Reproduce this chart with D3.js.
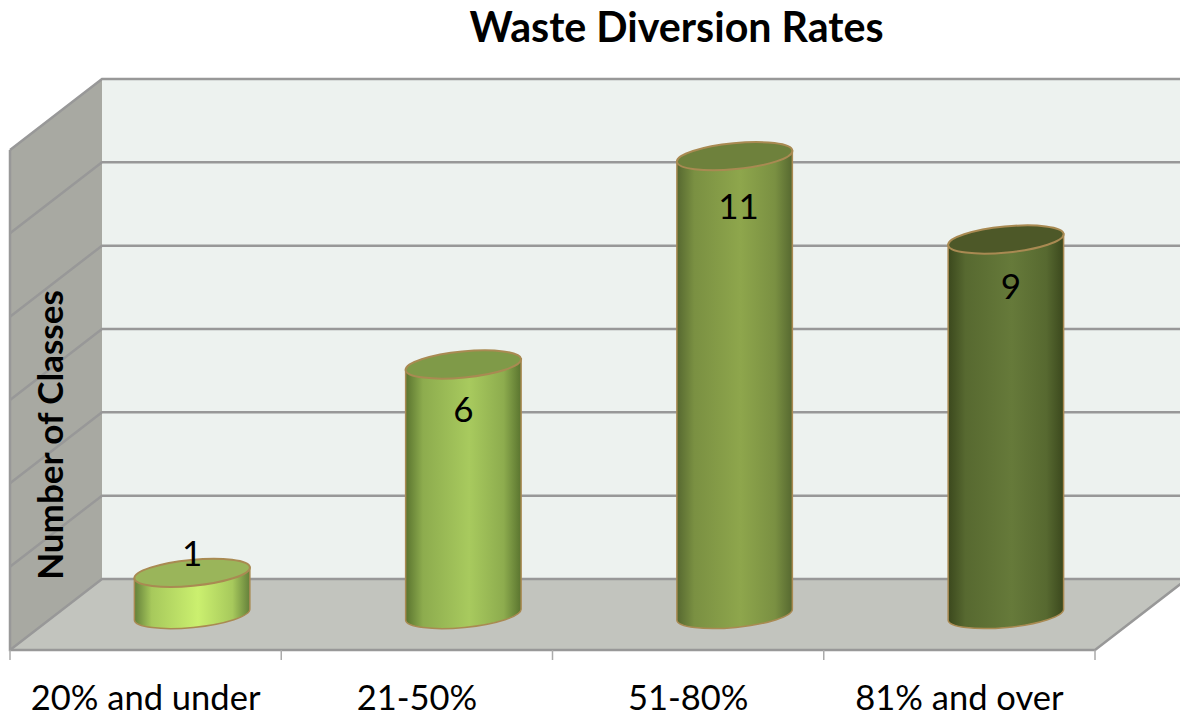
<!DOCTYPE html>
<html>
<head>
<meta charset="utf-8">
<script src="https://cdn.jsdelivr.net/npm/d3@7"></script>
<style>
  body { margin: 0; background: #fff; }
  svg { display: block; }
  text { font-family: Lato, Carlito, sans-serif; fill: #000; }
</style>
</head>
<body>
<figure style="margin:0"></figure>
<script>
const categories = ['20% and under', '21-50%', '51-80%', '81% and over']
const values = [1, 6, 11, 9]
const gridTicks = [0, 2, 4, 6, 8, 10, 12]
const edgeColors = ['#64803a', '#5a742f', '#566830', '#3b481d']
const midColors = ['#cbf06f', '#a8ca5e', '#8ea64c', '#667a3a']
const topColors = ['#9ab55a', '#7f9a48', '#6e813c', '#4d5828']

const width = 1180
const height = 713
const depthX = 92
const depthY = -71
const floorY = 650
const rx = 58
const ry = 13
const tilt = -5.5

const svg = d3.select('figure').append('svg')
  .attr('width', width)
  .attr('height', height)

const x = d3.scaleBand().domain(categories).range([10, 1095])
// front plane heights, the back wall is the same shifted by depth
const y = d3.scaleLinear().domain([0, 12]).range([floorY, 150])

const defs = svg.append('defs')
categories.forEach((c, i) => {
  const g = defs.append('linearGradient').attr('id', 'bar' + i)
  const shade = d3.interpolateRgb(edgeColors[i], midColors[i])
  g.append('stop').attr('offset', '0%').attr('stop-color', edgeColors[i])
  g.append('stop').attr('offset', '15%').attr('stop-color', shade(0.65))
  g.append('stop').attr('offset', '55%').attr('stop-color', midColors[i])
  g.append('stop').attr('offset', '85%').attr('stop-color', shade(0.65))
  g.append('stop').attr('offset', '100%').attr('stop-color', edgeColors[i])
})

const poly = pts => 'M' + pts.map(p => p.join(',')).join('L') + 'Z'
const left = x.range()[0]
const right = x.range()[1]

// back wall, floor, side wall
svg.append('path')
  .attr('d', poly([[left + depthX, y(12) + depthY], [width + 20, y(12) + depthY], [width + 20, y(0) + depthY], [left + depthX, y(0) + depthY]]))
  .attr('fill', '#edf2ef')
svg.append('path')
  .attr('d', poly([[left, y(0)], [right, y(0)], [right + depthX, y(0) + depthY], [left + depthX, y(0) + depthY]]))
  .attr('fill', '#c2c4be')
svg.append('path')
  .attr('d', poly([[left, y(12)], [left + depthX, y(12) + depthY], [left + depthX, y(0) + depthY], [left, y(0)]]))
  .attr('fill', '#a8a9a2')

const grid = svg.append('g')
  .attr('fill', 'none')
  .attr('stroke', '#989898')
  .attr('stroke-width', 2.5)

grid.selectAll('path.back')
  .data(gridTicks)
  .join('path')
  .attr('class', 'back')
  .attr('d', d => d3.line()([[left, y(d)], [left + depthX, y(d) + depthY], [d === 0 ? right + depthX : width + 20, y(d) + depthY]]))

grid.append('path')
  .attr('d', d3.line()([[left, y(12)], [left, y(0)], [right, y(0)], [right + depthX, y(0) + depthY]]))

// axis with the category labels, ticks sit on the band edges
const axis = svg.append('g')
  .attr('transform', `translate(0,${floorY})`)
  .call(d3.axisBottom(x).tickSize(0).tickPadding(36))
axis.select('.domain').remove()
axis.selectAll('text')
  .attr('font-size', 34.5)
  .style('font-family', 'Lato, Carlito, sans-serif')

svg.append('g')
  .selectAll('line')
  .data(categories.concat('end'))
  .join('line')
  .attr('x1', (d, i) => left + i * x.step())
  .attr('x2', (d, i) => left + i * x.step())
  .attr('y1', floorY)
  .attr('y2', floorY + 10)
  .attr('stroke', '#aaa')
  .attr('stroke-width', 1.5)

// cylinders
const dx = rx * Math.cos(tilt * Math.PI / 180)
const dy = rx * Math.sin(tilt * Math.PI / 180)
const cx = d => x(d) + x.bandwidth() / 2 + depthX / 2 + 0.5
const baseY = floorY + depthY / 2
const topY = v => y(v) + depthY / 2
// nudge of each value label from the top of its cylinder
const labelShift = v => ({ 1: [0, -21], 6: [0, 43], 11: [4, 49], 9: [5, 45] })[v]

const bars = svg.append('g')
  .selectAll('g')
  .data(categories)
  .join('g')

bars.append('path')
  .attr('d', (d, i) => {
    const c = cx(d)
    const t = topY(values[i])
    return `M${c - dx},${t - dy}L${c - dx},${baseY - dy}` +
      `A${rx},${ry} ${tilt} 0 0 ${c + dx},${baseY + dy}` +
      `L${c + dx},${t + dy}Z`
  })
  .attr('fill', (d, i) => `url(#bar${i})`)
  .attr('stroke', '#a98a52')
  .attr('stroke-width', 1.5)

bars.append('ellipse')
  .attr('cx', 0)
  .attr('cy', 0)
  .attr('rx', rx)
  .attr('ry', ry)
  .attr('transform', (d, i) => `translate(${cx(d)},${topY(values[i])}) rotate(${tilt})`)
  .attr('fill', (d, i) => topColors[i])
  .attr('stroke', '#a98a52')
  .attr('stroke-width', 2)

bars.append('text')
  .attr('x', (d, i) => cx(d) + labelShift(values[i])[0])
  .attr('y', (d, i) => topY(values[i]) + labelShift(values[i])[1])
  .attr('text-anchor', 'middle')
  .attr('dominant-baseline', 'central')
  .attr('font-size', 35)
  .text((d, i) => values[i])

svg.append('text')
  .attr('x', 676.5)
  .attr('y', 41.5)
  .attr('text-anchor', 'middle')
  .attr('font-size', 41.2)
  .attr('font-weight', 700)
  .text('Waste Diversion Rates')

svg.append('text')
  .attr('transform', 'translate(63,435) rotate(-90)')
  .attr('text-anchor', 'middle')
  .attr('font-size', 35)
  .attr('font-weight', 700)
  .text('Number of Classes')
</script>
</body>
</html>
